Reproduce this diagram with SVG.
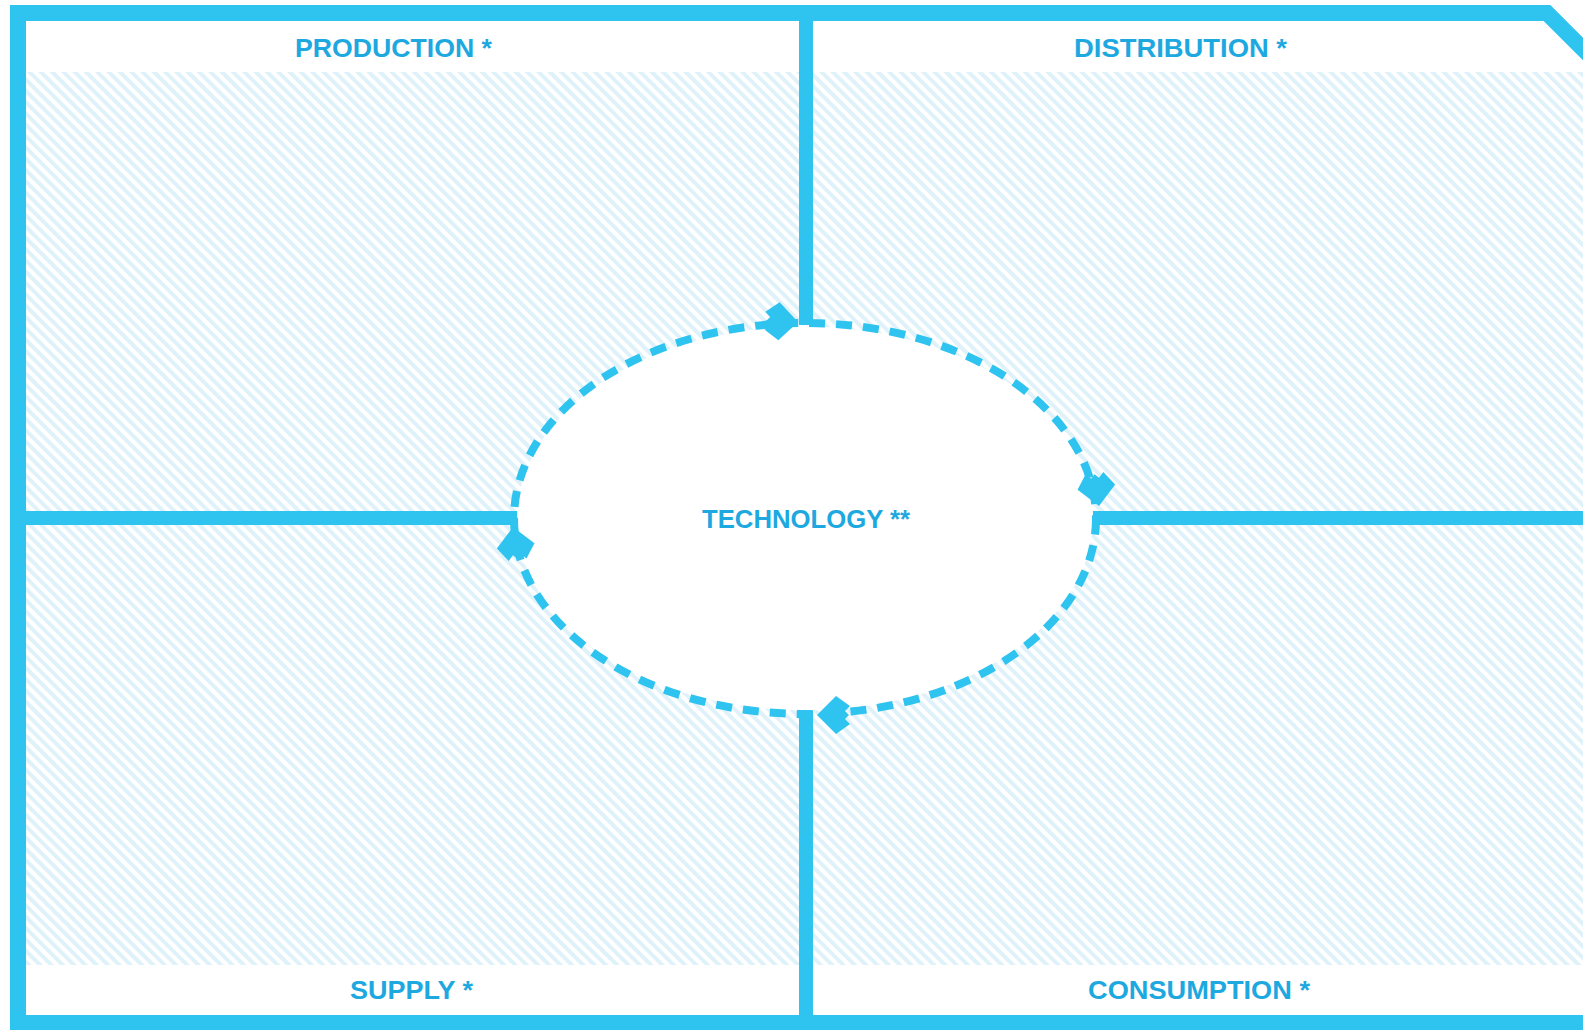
<svg xmlns="http://www.w3.org/2000/svg" width="1583" height="1030" viewBox="0 0 1583 1030">
<style>
.hatch{fill:url(#hatch)}
.band{fill:#ffffff}
.lbl{font-family:"Liberation Sans",Arial,sans-serif;font-weight:700;font-size:26px;fill:#1ea8e0}
.bar{stroke:#2fc3ef;stroke-width:16;fill:none}
.div{stroke:#2fc3ef;stroke-width:14;fill:none}
.ring{stroke:#2fc3ef;stroke-width:8;fill:none;stroke-dasharray:16 11}
.ah{fill:#2fc3ef}
</style>
<defs>
<pattern id="hatch" patternUnits="userSpaceOnUse" width="8" height="8" patternTransform="rotate(-45)">
<rect width="8" height="8" fill="#ffffff"/>
<rect width="4" height="8" fill="#dff2fa"/>
</pattern>
<path id="arrowhead" d="M0,0 L-19,-19 L-33,-9 L-28,-4 L-32,0 L-28,4 L-33,9 L-19,19 Z"/>
</defs>
<rect width="1583" height="1030" fill="#ffffff"/>
<g id="production">
<rect class="band" x="26" y="21" width="773" height="51"/>
<rect class="hatch" x="26" y="72" width="773" height="446"/>
<text class="lbl" x="295" y="57" textLength="197" lengthAdjust="spacingAndGlyphs">PRODUCTION *</text>
</g>
<g id="distribution">
<rect class="band" x="813" y="21" width="770" height="51"/>
<rect class="hatch" x="813" y="72" width="770" height="446"/>
<text class="lbl" x="1074" y="57" textLength="213" lengthAdjust="spacingAndGlyphs">DISTRIBUTION *</text>
</g>
<g id="supply">
<rect class="hatch" x="26" y="518" width="773" height="447"/>
<rect class="band" x="26" y="965" width="773" height="50"/>
<text class="lbl" x="350" y="999" textLength="123" lengthAdjust="spacingAndGlyphs">SUPPLY *</text>
</g>
<g id="consumption">
<rect class="hatch" x="813" y="518" width="770" height="447"/>
<rect class="band" x="813" y="965" width="770" height="50"/>
<text class="lbl" x="1088" y="999" textLength="222" lengthAdjust="spacingAndGlyphs">CONSUMPTION *</text>
</g>
<g id="frame">
<path class="bar" d="M18,1040 V13 H1547 L1600,66"/>
<line class="bar" x1="10" y1="1023" x2="1590" y2="1023"/>
<line class="div" x1="806" y1="21" x2="806" y2="325"/>
<line class="div" x1="806" y1="710" x2="806" y2="1015"/>
<line class="div" x1="26" y1="518" x2="521" y2="518"/>
<line class="div" x1="1093" y1="518" x2="1583" y2="518"/>
</g>
<g id="technology">
<ellipse cx="805" cy="518.5" rx="288" ry="192" fill="#ffffff"/>
<text class="lbl" x="702" y="528" textLength="208" lengthAdjust="spacingAndGlyphs">TECHNOLOGY **</text>
</g>
<g id="connectors">
<ellipse class="ring" cx="805" cy="518.5" rx="291" ry="195.5"/>
<use href="#arrowhead" class="ah" transform="translate(798,322) rotate(2)"/>
<use href="#arrowhead" class="ah" transform="translate(1099,506) rotate(82)"/>
<use href="#arrowhead" class="ah" transform="translate(817,715) rotate(180)"/>
<use href="#arrowhead" class="ah" transform="translate(513,527) rotate(-98)"/>
</g>
</svg>
